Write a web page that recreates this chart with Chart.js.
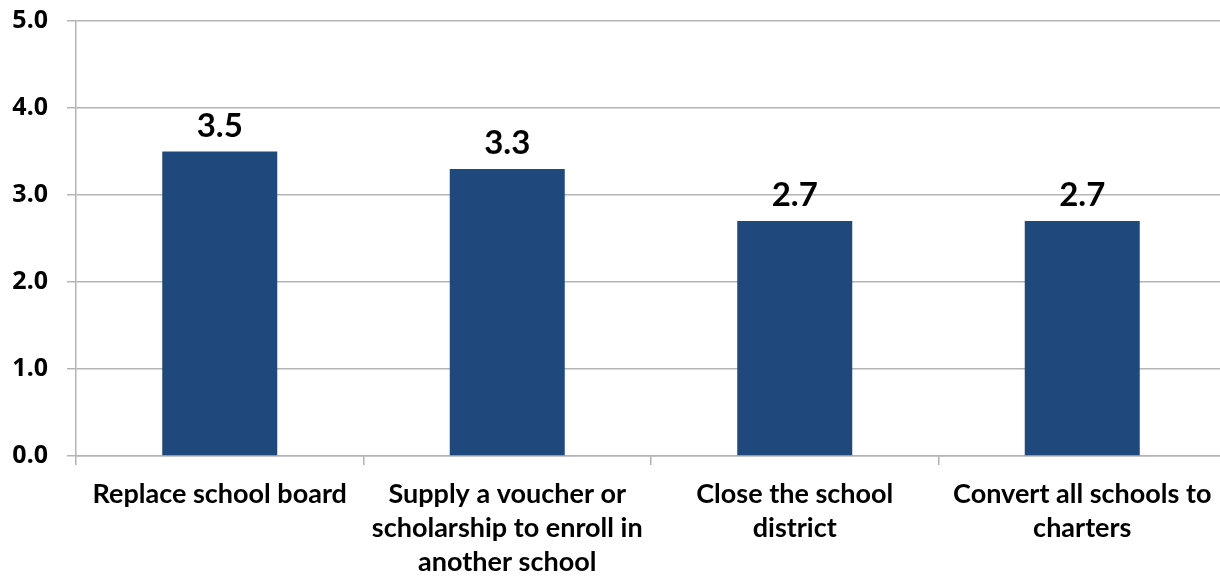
<!DOCTYPE html>
<html>
<head>
<meta charset="utf-8">
<script src="https://cdn.jsdelivr.net/npm/chart.js@4"></script>
<style>
  html, body { margin: 0; padding: 0; background: #fff; overflow: hidden; }
  #wrap { width: 1226px; height: 577px; }
</style>
</head>
<body>
<div id="wrap"><canvas id="chart" width="1226" height="577"></canvas></div>
<script>
const categories = [
  ['Replace school board'],
  ['Supply a voucher or', 'scholarship to enroll in', 'another school'],
  ['Close the school', 'district'],
  ['Convert all schools to', 'charters']
];
const ratings = [3.5, 3.3, 2.7, 2.7];
const yTicks = [0, 1, 2, 3, 4, 5];

const barColor = '#1f497d';
const gridColor = '#b4b4b4';

// writes each bar's value just above its top edge
const valueLabels = {
  id: 'valueLabels',
  afterDatasetsDraw(chart) {
    const ctx = chart.ctx;
    const meta = chart.getDatasetMeta(0);
    ctx.save();
    ctx.font = 'bold 33px Lato';
    ctx.fillStyle = '#000';
    ctx.textAlign = 'center';
    ctx.textBaseline = 'bottom';
    meta.data.forEach((bar, i) => {
      ctx.fillText(ratings[i].toFixed(1), bar.x, bar.y - 9);
    });
    ctx.restore();
  }
};

new Chart(document.getElementById('chart'), {
  type: 'bar',
  data: {
    labels: categories,
    datasets: [{
      data: ratings,
      backgroundColor: barColor,
      borderWidth: 0,
      barPercentage: 0.4,
      categoryPercentage: 1.0
    }]
  },
  options: {
    responsive: false,
    animation: false,
    layout: { padding: { top: 21, right: 0, bottom: 0, left: 0 } },
    plugins: {
      legend: { display: false },
      tooltip: { enabled: false }
    },
    scales: {
      y: {
        min: 0,
        max: 5,
        afterFit(scale) {
          scale.width = 76;
          scale.paddingTop = 0;
          scale.paddingBottom = 0;
        },
        afterBuildTicks(scale) { scale.ticks = yTicks.map(v => ({ value: v })); },
        ticks: {
          padding: 19,
          color: '#000',
          font: { family: '"Noto Sans"', weight: 'bold', size: 25 },
          callback: v => v.toFixed(1)
        },
        grid: { color: gridColor, lineWidth: 1.5, tickLength: 9 },
        border: { display: true, color: gridColor, width: 1.5 }
      },
      x: {
        afterFit(scale) { scale.height = 121; },
        ticks: {
          padding: 12,
          color: '#000',
          maxRotation: 0,
          autoSkip: false,
          font: { family: 'Lato', weight: 'bold', size: 27, lineHeight: 1.26 }
        },
        grid: { color: gridColor, lineWidth: 1.5, drawOnChartArea: false, tickLength: 9, offset: true },
        border: { display: true, color: gridColor, width: 1.5 }
      }
    }
  },
  plugins: [valueLabels]
});
</script>
</body>
</html>
